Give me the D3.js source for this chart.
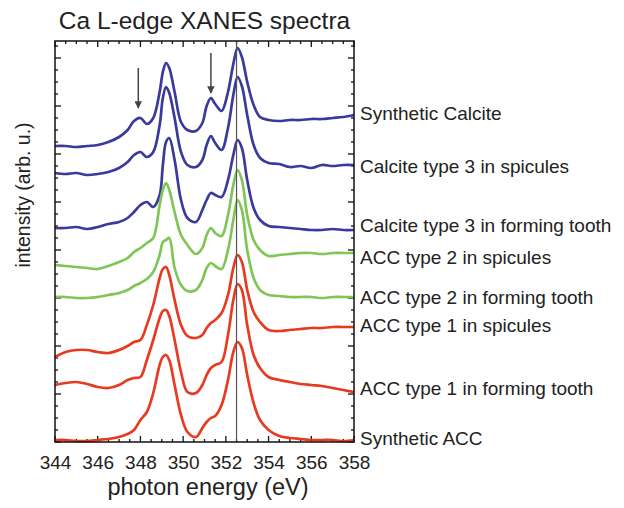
<!DOCTYPE html>
<html>
<head>
<meta charset="utf-8">
<script src="https://cdn.jsdelivr.net/npm/d3@7"></script>
<style>
  body { margin: 0; background: #fff; }
  text { font-family: "Liberation Sans", Arial, Helvetica, sans-serif; fill: #222; }
</style>
</head>
<body>
<script>
var width = 624,
    height = 508;

// photon energy grid (eV)
var energy = [344, 344.5, 345, 345.5, 346, 346.5, 347, 347.4, 347.7, 348,
  348.3, 348.6, 348.9, 349.05, 349.2, 349.35, 349.6, 349.9, 350.2, 350.6,
  350.9, 351.1, 351.3, 351.5, 351.8, 352.1, 352.35, 352.55, 352.75, 353.0,
  353.3, 353.6, 354, 354.5, 355, 355.5, 356, 356.5, 357, 357.5, 358];

// stacked intensities (arb. u.), offsets included
var syntheticCalcite = [296, 296, 295, 296, 297, 300, 305, 312, 321, 324, 318, 324, 350, 370, 379, 374, 350, 320, 312, 311,
  319, 336, 344, 338, 331, 350, 378, 394, 385, 360, 337, 325, 322, 321, 322, 322, 323, 323, 324, 325, 327];
var calciteSpicules = [269, 268, 269, 267, 268, 270, 274, 280, 287, 290, 285, 290, 317, 344, 355, 349, 324, 290, 277, 275,
  282, 297, 306, 299, 292, 314, 347, 365, 356, 327, 297, 284, 279, 278, 275, 276, 274, 277, 276, 277, 277];
var calciteTooth = [214, 214, 215, 213, 215, 218, 220, 224, 230, 237, 240, 235, 247, 277, 300, 304, 282, 242, 224, 220,
  232, 242, 249, 247, 245, 262, 287, 302, 294, 262, 234, 222, 216, 215, 214, 213, 212, 212, 213, 212, 212];
var acc2Spicules = [177, 176, 175, 174, 173, 176, 180, 184, 190, 194, 199, 204, 237, 252, 259, 252, 230, 207, 197, 188,
  194, 207, 214, 209, 206, 227, 257, 272, 262, 227, 202, 192, 186, 187, 188, 189, 189, 188, 189, 189, 189];
var acc2Tooth = [145, 145, 144, 144, 145, 147, 149, 152, 156, 159, 163, 170, 187, 200, 202, 204, 174, 157, 151, 152,
  162, 174, 179, 176, 173, 192, 222, 242, 232, 192, 164, 152, 147, 146, 145, 145, 145, 144, 145, 145, 145];
var acc1Spicules = [85, 90, 92, 92, 90, 89, 92, 96, 100, 102, 117, 137, 164, 173, 175, 167, 142, 117, 106, 104,
  107, 114, 119, 122, 129, 147, 174, 187, 180, 152, 130, 120, 112, 111, 112, 113, 114, 114, 115, 115, 115];
var acc1Tooth = [57, 59, 60, 58, 55, 54, 57, 62, 64, 65, 82, 102, 124, 131, 132, 126, 102, 70, 50, 49,
  57, 67, 74, 77, 80, 107, 142, 158, 152, 117, 87, 74, 65, 62, 60, 58, 57, 56, 54, 52, 50];
var syntheticACC = [2, 2, 1, 1, 2, 3, 5, 8, 12, 22, 30, 49, 77, 85, 87, 82, 57, 27, 10, 5,
  14, 20, 24, 26, 37, 62, 90, 100, 94, 67, 39, 22, 12, 6, 4, 3, 2, 2, 2, 1, 2];

var seriesNames = ["Synthetic Calcite", "Calcite type 3 in spicules", "Calcite type 3 in forming tooth",
  "ACC type 2 in spicules", "ACC type 2 in forming tooth", "ACC type 1 in spicules",
  "ACC type 1 in forming tooth", "Synthetic ACC"];
var seriesValues = [syntheticCalcite, calciteSpicules, calciteTooth, acc2Spicules, acc2Tooth,
  acc1Spicules, acc1Tooth, syntheticACC];
var seriesGroup = ["calcite", "calcite", "calcite", "acc2", "acc2", "acc1", "acc1", "acc1"];
var labelLevel = [329, 276, 217, 185, 145, 117, 54, 4];

var xTicks = [344, 346, 348, 350, 352, 354, 356, 358];
var markerEnergy = 352.5;
var arrowEnergy = [347.9, 351.3];
var arrowFrom = [374, 389];
var arrowTo = [334, 349];

var colors = { calcite: "#3a3a9c", acc2: "#80c656", acc1: "#e83a20" };

var margin = { left: 55, right: 270, top: 41, bottom: 66 };

var x = d3.scaleLinear().domain([344, 358]).range([margin.left, width - margin.right]);
var y = d3.scaleLinear().domain([0, 401]).range([height - margin.bottom, margin.top]);

var svg = d3.select("body").append("svg")
    .attr("width", width)
    .attr("height", height);

svg.append("defs").append("marker")
    .attr("id", "head")
    .attr("viewBox", "0 0 10 10")
    .attr("refX", 9).attr("refY", 5)
    .attr("markerWidth", 5).attr("markerHeight", 5)
    .attr("orient", "auto")
    .append("path")
    .attr("d", "M0,0L10,5L0,10z")
    .attr("fill", "#444");

// axes: inward ticks on all four sides
var minorX = d3.range(344, 358.01, 0.5);
var minorY = d3.range(0, 401, 12);

var bottom = svg.append("g").attr("transform", "translate(0," + y(0) + ")");
bottom.call(d3.axisBottom(x).tickValues(xTicks).tickSize(0).tickPadding(14).tickFormat(d3.format("d")));
bottom.selectAll("text").style("font-size", "19px").attr("fill", "#222");
bottom.select(".domain").remove();

function tickLines(g, vals, fn) {
  g.selectAll("line.t").data(vals).enter().append("line")
    .attr("class", "t")
    .attr("stroke", "#111")
    .attr("stroke-width", 1.3)
    .each(fn);
}

var ticks = svg.append("g");
tickLines(ticks, minorX, function(d) {
  var len = (d % 2 === 0) ? 6 : 3;
  d3.select(this).attr("x1", x(d)).attr("x2", x(d)).attr("y1", y(0)).attr("y2", y(0) - len);
});
tickLines(ticks.append("g"), minorX, function(d) {
  var len = (d % 2 === 0) ? 6 : 3;
  d3.select(this).attr("x1", x(d)).attr("x2", x(d)).attr("y1", y(401)).attr("y2", y(401) + len);
});
tickLines(ticks.append("g"), minorY, function(d, i) {
  var len = (i % 4 === 0) ? 6 : 3;
  d3.select(this).attr("x1", x(344)).attr("x2", x(344) + len).attr("y1", y(d)).attr("y2", y(d));
});
tickLines(ticks.append("g"), minorY, function(d, i) {
  var len = (i % 4 === 0) ? 6 : 3;
  d3.select(this).attr("x1", x(358)).attr("x2", x(358) - len).attr("y1", y(d)).attr("y2", y(d));
});

var line = d3.line()
    .x(function(d, i) { return x(energy[i]); })
    .y(function(d) { return y(d); })
    .curve(d3.curveCatmullRom.alpha(0.5));

svg.append("g").selectAll("path")
    .data(seriesValues)
    .enter().append("path")
    .attr("d", line)
    .attr("fill", "none")
    .attr("stroke", function(d, i) { return colors[seriesGroup[i]]; })
    .attr("stroke-width", 2.7)
    .attr("stroke-linejoin", "round");

// reference line at the calcite L2 peak
svg.append("line")
    .attr("x1", x(markerEnergy)).attr("x2", x(markerEnergy))
    .attr("y1", y(401)).attr("y2", y(0))
    .attr("stroke", "#555")
    .attr("stroke-width", 1.2);

svg.append("g").selectAll("line")
    .data(arrowEnergy)
    .enter().append("line")
    .attr("x1", function(d) { return x(d); })
    .attr("x2", function(d) { return x(d); })
    .attr("y1", function(d, i) { return y(arrowFrom[i]); })
    .attr("y2", function(d, i) { return y(arrowTo[i]); })
    .attr("stroke", "#444")
    .attr("stroke-width", 1.5)
    .attr("marker-end", "url(#head)");

// frame
svg.append("rect")
    .attr("x", x(344)).attr("y", y(401))
    .attr("width", x(358) - x(344)).attr("height", y(0) - y(401))
    .attr("fill", "none")
    .attr("stroke", "#111")
    .attr("stroke-width", 1.5);

svg.append("g").selectAll("text")
    .data(seriesNames)
    .enter().append("text")
    .attr("x", x(358) + 6)
    .attr("y", function(d, i) { return y(labelLevel[i]); })
    .attr("dy", "0.35em")
    .style("font-size", "19px")
    .text(function(d) { return d; });

svg.append("text")
    .attr("x", (x(344) + x(358)) / 2)
    .attr("y", 29)
    .attr("text-anchor", "middle")
    .style("font-size", "24.5px")
    .text("Ca L-edge XANES spectra");

svg.append("text")
    .attr("x", 208)
    .attr("y", 495)
    .attr("text-anchor", "middle")
    .style("font-size", "23.5px")
    .text("photon energy (eV)");

svg.append("text")
    .attr("transform", "translate(30,195) rotate(-90)")
    .attr("text-anchor", "middle")
    .style("font-size", "19.5px")
    .text("intensity (arb. u.)");
</script>
</body>
</html>
